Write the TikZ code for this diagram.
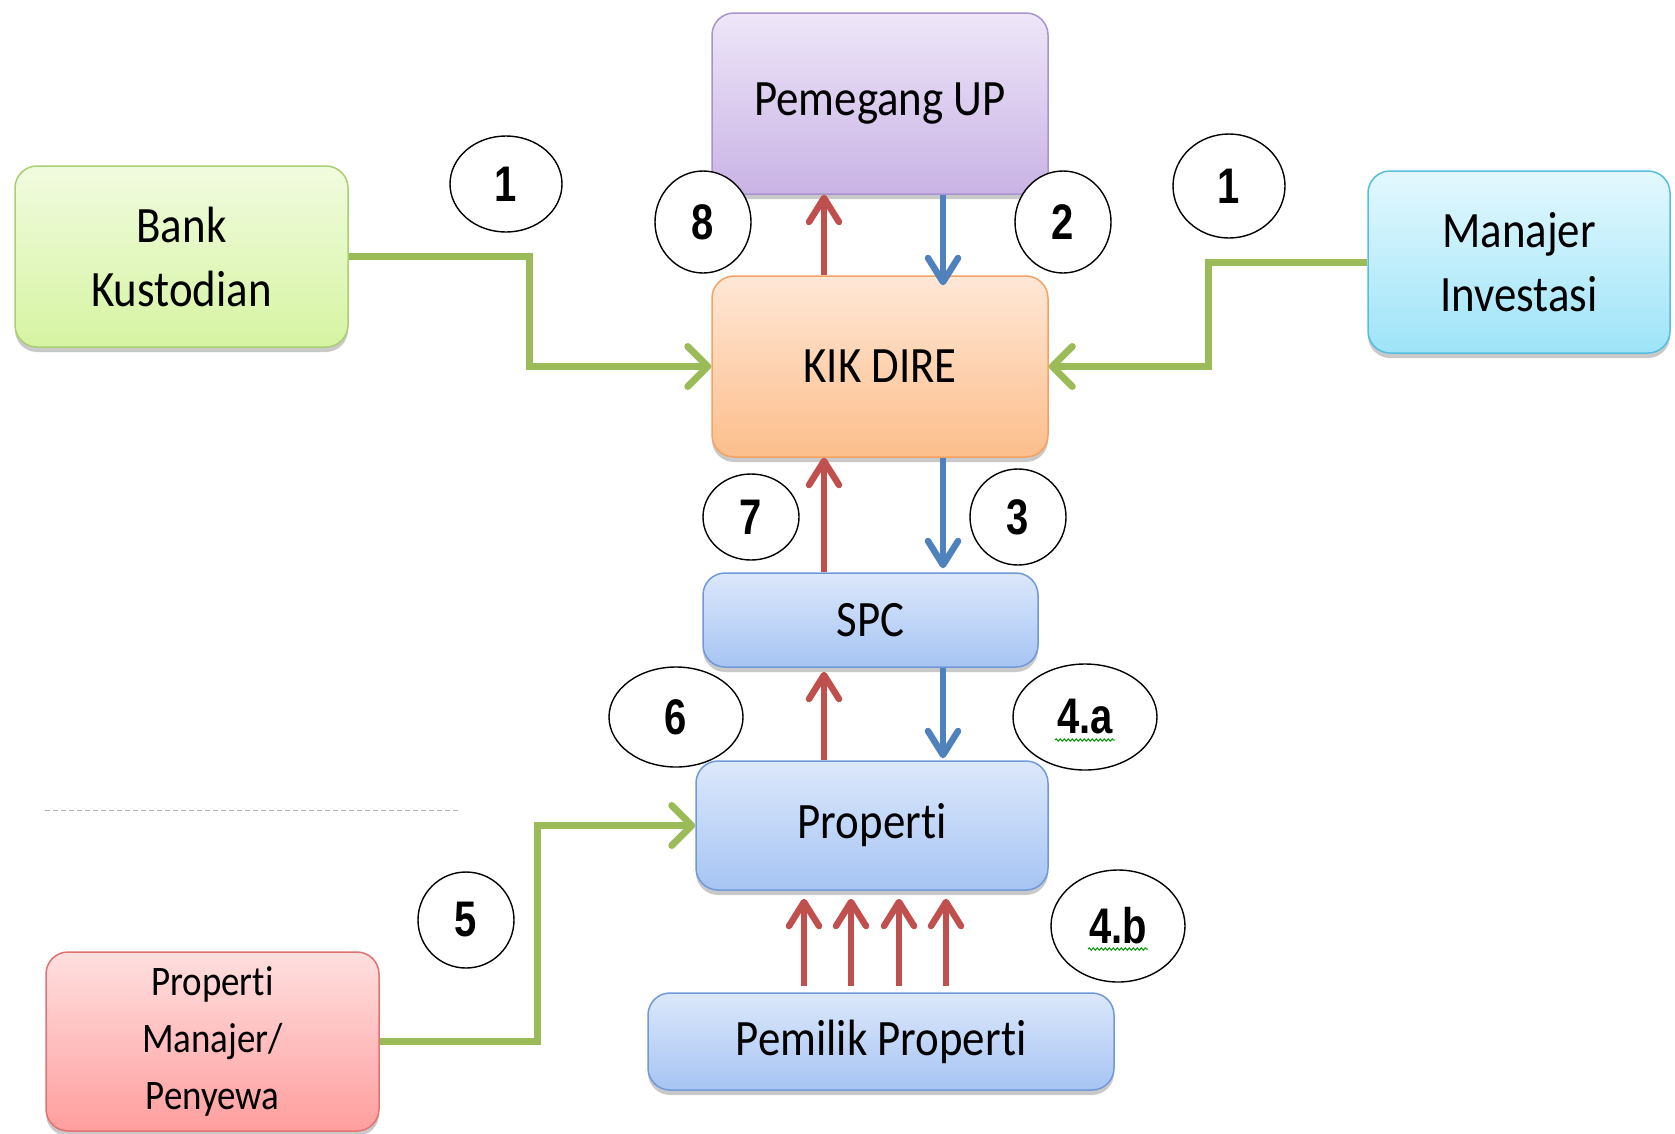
\documentclass[tikz,border=0pt]{standalone}
\usepackage{fontspec}
\setmainfont{Carlito}
\newfontfamily\boxfont[FakeStretch=0.88,Ligatures={NoCommon}]{Carlito}
\newfontfamily\numfont[FakeStretch=0.8]{Liberation Sans}
\usetikzlibrary{arrows.meta,shapes.geometric,shadows,decorations.pathmorphing}

\definecolor{grnc}{HTML}{9BBB59}
\definecolor{redc}{HTML}{C0504D}
\definecolor{bluc}{HTML}{4F81BD}
% box fills (top / bottom / border)
\definecolor{purT}{HTML}{EEE6F8}\definecolor{purB}{HTML}{C9B3E5}\definecolor{purL}{HTML}{A893CF}
\definecolor{orgT}{HTML}{FFE7D6}\definecolor{orgB}{HTML}{FCBE8C}\definecolor{orgL}{HTML}{F5A263}
\definecolor{limT}{HTML}{F1FBDF}\definecolor{limB}{HTML}{D6F4A2}\definecolor{limL}{HTML}{A9CF72}
\definecolor{cyaT}{HTML}{E3F8FE}\definecolor{cyaB}{HTML}{9EE4F8}\definecolor{cyaL}{HTML}{55BEDD}
\definecolor{bluT}{HTML}{DCE8FB}\definecolor{bluB}{HTML}{A6C4F3}\definecolor{bluL}{HTML}{7198D8}
\definecolor{pnkT}{HTML}{FFDFDF}\definecolor{pnkB}{HTML}{FF9E9E}\definecolor{pnkL}{HTML}{E27272}

\begin{document}
\begin{tikzpicture}[x=1pt,y=-1pt,
  box/.style={draw, line width=1.5pt, rounded corners=22pt, align=center,
    inner sep=0pt, font=\boxfont\fontsize{51}{64}\selectfont,
    drop shadow={shadow xshift=0pt, shadow yshift=-5pt, opacity=0.3, fill=black!70}},
  grad/.style={top color=#1T, bottom color=#1B, draw=#1L},
  num/.style={ellipse, draw=black, line width=1.4pt, fill=white, inner sep=0pt,
    font=\numfont\bfseries\fontsize{50}{50}\selectfont},
  flow/.style={line width=7pt, draw=grnc, line join=miter,
    -{Straight Barb[length=20pt,width=40pt,round]}},
  upflow/.style={line width=6.5pt, draw=redc, -{Straight Barb[length=24pt,width=30pt,round]}},
  downflow/.style={line width=6.5pt, draw=bluc, -{Straight Barb[length=24pt,width=30pt,round]}},
  spellcheck/.style={draw=green!60!black, line width=1pt,
    decorate, decoration={snake, amplitude=1.2pt, segment length=4pt}}
]
\useasboundingbox (0,0) rectangle (1675,1133);

% boxes
\node[box, grad=pur, minimum width=336pt, minimum height=181pt]
  (pup) at (880,103.5) {Pemegang UP};
\node[box, grad=org, minimum width=336pt, minimum height=181pt]
  (kik) at (880,366.5) {KIK DIRE};
\node[box, grad=lim, minimum width=333pt, minimum height=181pt]
  (bank) at (181.5,256.5) {Bank\\Kustodian};
\node[box, grad=cya, minimum width=302pt, minimum height=182pt]
  (mgr) at (1519,262) {Manajer\\Investasi};
\node[box, grad=blu, minimum width=335pt, minimum height=94pt]
  (spc) at (870.5,620) {SPC};
\node[box, grad=blu, minimum width=352pt, minimum height=129pt]
  (prop) at (872,825.5) {Properti};
\node[box, grad=blu, minimum width=466pt, minimum height=97pt]
  (pem) at (881,1041.5) {Pemilik Properti};
\node[box, grad=pnk, minimum width=333pt, minimum height=179pt,
  font=\boxfont\fontsize{42}{57}\selectfont]
  (ppm) at (212.5,1041.5) {Properti\\Manajer/\\Penyewa};

% vertical flow columns
\coordinate (xr) at (824,0);
\coordinate (xb) at (943,0);
\draw[upflow] (kik.north -| xr) -- (pup.south -| xr);
\draw[downflow, shorten >=-10pt] (pup.south -| xb) -- (kik.north -| xb);
\draw[upflow] (spc.north -| xr) -- (kik.south -| xr);
\draw[downflow, shorten >=4pt] (kik.south -| xb) -- (spc.north -| xb);
\draw[upflow, shorten >=4pt] (prop.north -| xr) -- (spc.south -| xr);
\draw[downflow, shorten >=2pt] (spc.south -| xb) -- (prop.north -| xb);

% owners feeding the property
\foreach \i/\x in {1/804,2/851,3/899,4/946}{
  \coordinate (po\i) at (\x,0);
  \draw[upflow, shorten >=8pt, shorten <=6pt] (pem.north -| po\i) -- (prop.south -| po\i);
}

% side inputs
\coordinate (gl) at (529,0);
\coordinate (gr) at (1208,0);
\coordinate (gp) at (537,0);
\draw[flow] (bank.east) -| (kik.west -| gl) -- (kik.west);
\draw[flow] (mgr.west) -| (kik.east -| gr) -- (kik.east);
\draw[flow] (ppm.east) -| (prop.west -| gp) -- (prop.west);

% dashed separator
\coordinate (d1) at (45,810);
\coordinate (d2) at (461,810);
\draw[black!30, line width=0.8pt, dash pattern=on 5pt off 3pt] (d1) -- (d2);

% step numbers
\node[num, minimum width=112pt, minimum height=96pt]  (c1a) at (506,184) {1};
\node[num, minimum width=96pt,  minimum height=102pt] (c8)  at (703,222) {8};
\node[num, minimum width=96pt,  minimum height=102pt] (c2)  at (1063,222) {2};
\node[num, minimum width=112pt, minimum height=104pt] (c1b) at (1229,186) {1};
\node[num, minimum width=96pt,  minimum height=86pt]  (c7)  at (751,517) {7};
\node[num, minimum width=96pt,  minimum height=96pt]  (c3)  at (1018,517) {3};
\node[num, minimum width=134pt, minimum height=100pt] (c6)  at (676,717) {6};
\node[num, minimum width=144pt, minimum height=106pt] (c4a) at (1085,717) {4.a};
\node[num, minimum width=96pt,  minimum height=96pt]  (c5)  at (466,920) {5};
\node[num, minimum width=134pt, minimum height=112pt] (c4b) at (1118,926) {4.b};

\draw[spellcheck] ([shift={(-30,23)}]c4a.center) -- ([shift={(30,23)}]c4a.center);
\draw[spellcheck] ([shift={(-30,23)}]c4b.center) -- ([shift={(30,23)}]c4b.center);
\end{tikzpicture}
\end{document}
